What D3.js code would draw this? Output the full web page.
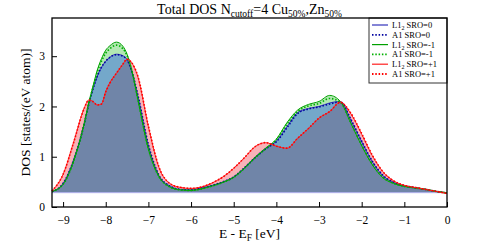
<!DOCTYPE html>
<html>
<head>
<meta charset="utf-8">
<script src="https://cdn.jsdelivr.net/npm/d3@7"></script>
<style>
  body { margin: 0; background: #fff; }
</style>
</head>
<body>
<div id="chart"></div>
<script>
var width  = 483;
var height = 243;
var serif = "'Liberation Serif', 'DejaVu Serif', serif";

// energy grid (eV, relative to E_F)
var energy = [-9.26, -9.0, -8.75, -8.5, -8.4, -8.3, -8.2, -8.1, -8.0, -7.9, -7.75, -7.6, -7.5, -7.4, -7.25,
  -7.0, -6.75, -6.5, -6.25, -6.0, -5.75, -5.5, -5.25, -5.0, -4.75, -4.5, -4.25, -4.0, -3.75, -3.5,
  -3.25, -3.0, -2.75, -2.5, -2.25, -2.0, -1.75, -1.5, -1.25, -1.0, -0.75, -0.5, -0.25, 0];

var l12_sro0 = [0.31, 0.47, 0.95, 1.68, 2.05, 2.35, 2.6, 2.78, 2.9, 2.98, 3.04, 3.01, 2.93, 2.72, 2.22,
  1.22, 0.62, 0.42, 0.35, 0.34, 0.38, 0.43, 0.5, 0.6, 0.78, 0.99, 1.17, 1.31, 1.6, 1.88,
  1.96, 2.0, 2.07, 2.1, 1.72, 1.3, 0.9, 0.62, 0.49, 0.42, 0.385, 0.35, 0.31, 0.28];
var a1_sro0 = [0.31, 0.47, 0.94, 1.67, 2.04, 2.34, 2.6, 2.78, 2.9, 2.98, 3.03, 3.0, 2.93, 2.73, 2.24,
  1.24, 0.63, 0.42, 0.35, 0.34, 0.38, 0.43, 0.5, 0.6, 0.78, 0.98, 1.16, 1.3, 1.58, 1.86,
  1.95, 1.99, 2.05, 2.09, 1.74, 1.31, 0.91, 0.63, 0.49, 0.42, 0.385, 0.35, 0.31, 0.28];
var l12_srom1 = [0.31, 0.45, 0.92, 1.68, 2.07, 2.4, 2.72, 2.95, 3.12, 3.21, 3.28, 3.2, 3.04, 2.76, 2.15,
  1.15, 0.6, 0.4, 0.34, 0.33, 0.36, 0.42, 0.49, 0.59, 0.77, 0.98, 1.17, 1.35, 1.68, 1.93,
  2.04, 2.1, 2.22, 2.1, 1.66, 1.22, 0.84, 0.58, 0.47, 0.41, 0.38, 0.35, 0.31, 0.28];
var a1_srom1 = [0.31, 0.45, 0.92, 1.67, 2.05, 2.38, 2.68, 2.9, 3.06, 3.15, 3.22, 3.15, 3.01, 2.75, 2.16,
  1.16, 0.6, 0.4, 0.34, 0.33, 0.36, 0.42, 0.49, 0.59, 0.77, 0.98, 1.16, 1.34, 1.65, 1.9,
  2.01, 2.06, 2.16, 2.08, 1.67, 1.23, 0.85, 0.59, 0.47, 0.41, 0.38, 0.35, 0.31, 0.28];
var l12_srop1 = [0.32, 0.65, 1.3, 1.98, 2.13, 2.1, 2.03, 2.05, 2.3, 2.48, 2.66, 2.84, 2.94, 2.88, 2.6,
  1.6, 0.78, 0.47, 0.39, 0.37, 0.4, 0.48, 0.6, 0.77, 0.98, 1.2, 1.28, 1.21, 1.17, 1.37,
  1.56, 1.77, 1.9, 2.09, 1.85, 1.45, 1.02, 0.7, 0.52, 0.43, 0.39, 0.35, 0.31, 0.27];
var a1_srop1 = [0.32, 0.65, 1.29, 1.97, 2.12, 2.1, 2.03, 2.05, 2.29, 2.47, 2.66, 2.84, 2.94, 2.88, 2.61,
  1.61, 0.79, 0.47, 0.39, 0.37, 0.4, 0.48, 0.6, 0.77, 0.98, 1.2, 1.28, 1.21, 1.17, 1.37,
  1.56, 1.77, 1.9, 2.08, 1.86, 1.46, 1.03, 0.7, 0.52, 0.43, 0.39, 0.35, 0.31, 0.27];

var fillFloor = 0.285;
var xTicks = [-9, -8, -7, -6, -5, -4, -3, -2, -1, 0];
var yTicks = [0, 1, 2, 3];

var margin = {top: 18, right: 36, bottom: 36, left: 52};

var x = d3.scaleLinear().domain([-9.26, 0]).range([margin.left, width - margin.right]);
var y = d3.scaleLinear().domain([0, 3.76]).range([height - margin.bottom, margin.top]);

var svg = d3.select("#chart").append("svg")
  .attr("width", width)
  .attr("height", height)
  .attr("font-family", serif);

function pts(vals) {
  return energy.map(function(e, i) { return [e, vals[i]]; });
}

var area = d3.area()
  .x(function(d) { return x(d[0]); })
  .y0(y(fillFloor))
  .y1(function(d) { return y(d[1]); })
  .curve(d3.curveMonotoneX);

var line = d3.line()
  .x(function(d) { return x(d[0]); })
  .y(function(d) { return y(d[1]); })
  .curve(d3.curveMonotoneX);

// filled areas: red under, then green, then blue
var fills = [
  {vals: l12_srop1, color: "rgb(232,0,18)", op: 0.3},
  {vals: l12_srom1, color: "rgb(0,178,0)", op: 0.3},
  {vals: l12_sro0, color: "rgb(0,49,245)", op: 0.35}
];
svg.append("g").selectAll("path").data(fills)
  .enter().append("path")
  .attr("d", function(d) { return area(pts(d.vals)); })
  .attr("fill", function(d) { return d.color; })
  .attr("fill-opacity", function(d) { return d.op; });

svg.append("line")
  .attr("x1", x(-9.26)).attr("x2", x(0))
  .attr("y1", y(fillFloor)).attr("y2", y(fillFloor))
  .attr("stroke", "#b4b4f0").attr("stroke-width", 1);

var series = [
  {name: "L1", sub: "2", rest: " SRO=0", vals: l12_sro0, color: "#3333bb", dash: null, w: 1},
  {name: "A1 SRO=0", vals: a1_sro0, color: "#0000a0", dash: "1.5,1.8", w: 1.6},
  {name: "L1", sub: "2", rest: " SRO=-1", vals: l12_srom1, color: "#00a000", dash: null, w: 1},
  {name: "A1 SRO=-1", vals: a1_srom1, color: "#00b000", dash: "1.5,1.8", w: 1.6},
  {name: "L1", sub: "2", rest: " SRO=+1", vals: l12_srop1, color: "#ff2020", dash: null, w: 1},
  {name: "A1 SRO=+1", vals: a1_srop1, color: "#ff0000", dash: "1.5,1.8", w: 1.6}
];

svg.append("g").selectAll("path").data(series)
  .enter().append("path")
  .attr("d", function(d) { return line(pts(d.vals)); })
  .attr("fill", "none")
  .attr("stroke", function(d) { return d.color; })
  .attr("stroke-width", function(d) { return d.w; })
  .attr("stroke-dasharray", function(d) { return d.dash; });

// axes with inward ticks
var xMinor = d3.range(-9, 0.01, 0.5);
var yMinor = d3.range(0, 3.76, 0.5);

var gx = svg.append("g").attr("transform", "translate(0," + y(0) + ")");
gx.call(d3.axisBottom(x).tickValues(xMinor).tickSize(-3).tickFormat(""));
gx.call(d3.axisBottom(x).tickValues(xTicks).tickSize(-5).tickPadding(9).tickFormat(d3.format("d")));
gx.selectAll(".domain").remove();
gx.attr("font-family", serif).attr("font-size", 11.5);

var gy = svg.append("g").attr("transform", "translate(" + x(-9.26) + ",0)");
gy.call(d3.axisLeft(y).tickValues(yMinor).tickSize(-3).tickFormat(""));
gy.call(d3.axisLeft(y).tickValues(yTicks).tickSize(-5).tickPadding(7).tickFormat(d3.format("d")));
gy.selectAll(".domain").remove();
gy.attr("font-family", serif).attr("font-size", 11.5);

svg.selectAll(".tick line").attr("stroke", "#000").attr("stroke-width", 1);

// legend
var lg = svg.append("g");
lg.append("rect")
  .attr("x", 369).attr("y", margin.top)
  .attr("width", x(0) - 369).attr("height", 65)
  .attr("fill", "#fff").attr("stroke", "#333").attr("stroke-width", 1);

var row = lg.selectAll("g.row").data(series).enter().append("g")
  .attr("transform", function(d, i) { return "translate(372," + (25 + i * 9.8) + ")"; });
row.append("line")
  .attr("x1", 0).attr("x2", 16)
  .attr("stroke", function(d) { return d.color; })
  .attr("stroke-width", function(d) { return d.w + 0.2; })
  .attr("stroke-dasharray", function(d) { return d.dash; });
var lt = row.append("text").attr("x", 20).attr("y", 3).attr("font-size", 8.5);
lt.append("tspan").text(function(d) { return d.name; });
lt.filter(function(d) { return d.sub; }).append("tspan")
  .attr("font-size", 6).attr("dy", 2).text(function(d) { return d.sub; });
lt.filter(function(d) { return d.sub; }).append("tspan")
  .attr("dy", -2).text(function(d) { return d.rest; });

// frame
svg.append("rect")
  .attr("x", x(-9.26)).attr("y", margin.top)
  .attr("width", x(0) - x(-9.26)).attr("height", y(0) - margin.top)
  .attr("fill", "none").attr("stroke", "#000").attr("stroke-width", 1.3);

// title
var title = svg.append("text")
  .attr("x", (x(-9.26) + x(0)) / 2).attr("y", 14)
  .attr("text-anchor", "middle").attr("font-size", 14);
title.append("tspan").text("Total DOS N");
title.append("tspan").attr("font-size", 9.5).attr("dy", 3).text("cutoff");
title.append("tspan").attr("dy", -3).text("=4 Cu");
title.append("tspan").attr("font-size", 9.5).attr("dy", 3).text("50%");
title.append("tspan").attr("dy", -3).text(",Zn");
title.append("tspan").attr("font-size", 9.5).attr("dy", 3).text("50%");

// axis labels
var xl = svg.append("text")
  .attr("x", (x(-9.26) + x(0)) / 2).attr("y", 238)
  .attr("text-anchor", "middle").attr("font-size", 13.5);
xl.append("tspan").text("E - E");
xl.append("tspan").attr("font-size", 9.5).attr("dy", 3).text("F");
xl.append("tspan").attr("dy", -3).text(" [eV]");

svg.append("text")
  .attr("transform", "translate(30," + ((margin.top + y(0)) / 2) + ") rotate(-90)")
  .attr("text-anchor", "middle").attr("font-size", 13.5)
  .text("DOS [states/(eV atom)]");
</script>
</body>
</html>
